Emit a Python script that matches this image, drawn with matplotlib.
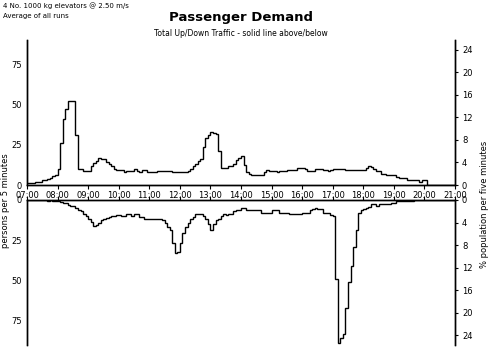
import matplotlib.pyplot as plt
import numpy as np

# 5 minute bins from 07:00 to 21:00 (one row per hour)
up = [
    1, 1, 1, 2, 2, 2, 3, 3, 4, 4.5, 5.5, 6.5,                     # 07
    10, 26, 41, 47, 52, 52, 52, 31, 10, 10, 9, 9,                 # 08
    9, 12, 13.5, 15, 17, 16, 16, 14.5, 13, 11.5, 10, 9.3,         # 09
    9.3, 9.3, 8, 9, 9, 9, 9.7, 9, 8, 9.3, 9.3, 8,                 # 10
    8, 8, 8, 9, 9, 9, 9, 9, 9, 8, 8, 8,                           # 11
    8, 8, 8, 9, 10, 11.5, 13, 15, 16, 23.5, 29, 31,               # 12
    33, 32, 31.5, 21, 10.5, 10.5, 10.5, 11.5, 11.5, 13, 15.5, 17, # 13
    18, 12.5, 8, 7, 6, 6, 6, 6, 6, 8, 9.5, 9,                     # 14
    9, 9, 8, 9, 9, 9, 9.5, 9.5, 9.5, 9.5, 10.5, 10.5,             # 15
    10.5, 9.7, 9, 9, 9, 9.7, 9.7, 9.7, 9.3, 9.3, 8.5, 9.3,        # 16
    10, 10, 10, 10, 10, 9.1, 9.1, 9.1, 9.1, 9.1, 9.1, 9.1,        # 17
    9.1, 10.3, 11.6, 11, 9.7, 8.5, 8.5, 7, 7, 6.2, 6.2, 6.2,      # 18
    6.2, 5.2, 4.3, 4.3, 4.3, 2.9, 2.9, 2.9, 2.9, 2.9, 1.7, 2.9,   # 19
    2.9, 0, 0, 0, 0, 0, 0, 0, 0, 0, 0, 0,                         # 20
]
down = [
    0, 0, 0, 0, 0, 0, 0, 0, 0.5, 0.3, 0.5, 0.5,                   # 07
    0.8, 1, 2, 2, 3, 3.5, 4, 5, 6, 7, 8.5, 10,                    # 08
    12, 13.5, 16, 15.5, 14, 12.5, 11.5, 11, 10.5, 10, 10, 9.5,    # 09
    9.5, 10, 10, 9, 9, 10, 9, 9, 10.5, 10.5, 12, 12,              # 10
    12, 12, 12, 12, 12, 12.5, 14, 16.5, 18.5, 26.5, 33, 32,       # 11
    27, 20.5, 17, 14.5, 12, 10.5, 9, 9, 9, 10, 12, 15,            # 12
    18.5, 15, 12.5, 11.5, 10, 9, 9.5, 8.5, 8.5, 7, 6.5, 6,        # 13
    5, 5, 6, 6, 6, 6, 6, 6.5, 8, 8, 8, 8,                         # 14
    6.5, 6.5, 6.5, 8.2, 8.2, 8.2, 8.2, 8.8, 8.8, 8.8, 8.8, 8.8,   # 15
    8.3, 7.8, 7.8, 6.1, 5.7, 4.7, 5.9, 5.9, 7.8, 7.8, 7.8, 9.2,   # 16
    10.2, 49, 89, 85.4, 83, 67, 51, 41, 29, 18.6, 8.1, 6.5,       # 17
    5.7, 4.9, 4.3, 2.8, 2.8, 4, 2.6, 2.6, 2.6, 2.6, 2.6, 2,       # 18
    2, 0.6, 0.6, 0.6, 0.6, 0.6, 0.6, 0.6, 0.3, 0.3, 0.3, 0.3,     # 19
    0.3, 0.3, 0.3, 0, 0, 0, 0, 0, 0, 0, 0, 0,                     # 20
]
hours = list(range(7, 22))
hour_labels = ["%02d:00" % h for h in hours]
persons_ticks = [0, 25, 50, 75]
pct_ticks = [0, 4, 8, 12, 16, 20, 24]
per_pct = 3.5  # persons per 1 % of population

edges = np.linspace(7, 21, len(up) + 1)
ymax = 90

fig = plt.figure(figsize=(4.91, 3.6), dpi=100)
ax1 = fig.add_axes([0.055, 0.4861, 0.8717, 0.4028])
ax2 = fig.add_axes([0.055, 0.0417, 0.8717, 0.4028])

ax1.stairs(up, edges, color="black", linewidth=1.0, baseline=None)
ax2.stairs(down, edges, color="black", linewidth=1.0, baseline=None)

for ax in (ax1, ax2):
    ax.set_xlim(7, 21)
    ax.set_xticks(hours)
    ax.set_yticks(persons_ticks)
    ax.tick_params(axis="y", length=0, pad=4, labelsize=6)
    for s in ax.spines.values():
        s.set_linewidth(1.0)

ax1.set_ylim(0, ymax)
ax1.spines["top"].set_visible(False)
ax1.set_xticklabels(hour_labels)
ax1.tick_params(axis="x", direction="out", length=3, pad=1.5, labelsize=6)

ax2.set_ylim(ymax, 0)
ax2.spines["bottom"].set_visible(False)
ax2.xaxis.tick_top()
ax2.tick_params(axis="x", direction="out", length=3, labeltop=False, labelbottom=False)

# right hand % population axes
r1 = ax1.twinx()
r1.set_ylim(0, ymax / per_pct)
r2 = ax2.twinx()
r2.set_ylim(ymax / per_pct, 0)
for r in (r1, r2):
    r.set_yticks(pct_ticks)
    r.tick_params(axis="y", length=2, pad=3, labelsize=6)
    for s in r.spines.values():
        s.set_linewidth(1.0)
r1.spines["top"].set_visible(False)
r2.spines["bottom"].set_visible(False)

fig.text(0.006, 0.983, "4 No. 1000 kg elevators @ 2.50 m/s", fontsize=5, va="center")
fig.text(0.006, 0.955, "Average of all runs", fontsize=5, va="center")
fig.text(0.49, 0.95, "Passenger Demand", fontsize=9.5, fontweight="bold",
         ha="center", va="center")
fig.text(0.49, 0.908, "Total Up/Down Traffic - solid line above/below", fontsize=5.5,
         ha="center", va="center")
fig.text(0.012, 0.444, "persons per 5 minutes", fontsize=6, rotation=90,
         ha="center", va="center")
fig.text(0.986, 0.433, "% population per five minutes", fontsize=6, rotation=90,
         ha="center", va="center")

fig.savefig("out.png", dpi=100)
